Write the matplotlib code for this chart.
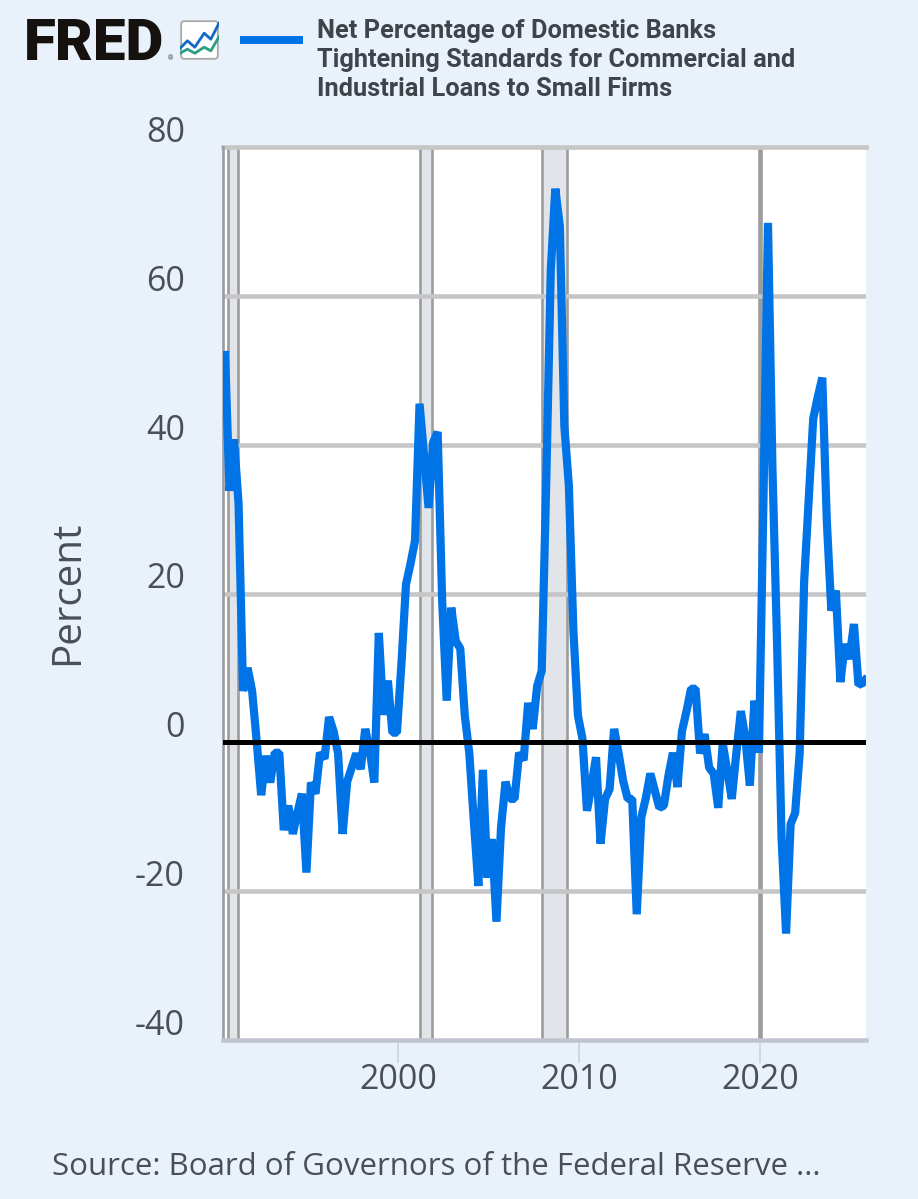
import numpy as np
import matplotlib
matplotlib.use("Agg")
import matplotlib.pyplot as plt
from matplotlib.patches import FancyBboxPatch
from matplotlib.transforms import ScaledTranslation

# ---- data ----
start_year = 1990.44
quarter_step = 0.25
net_tightening = [
    52.6, 33.8, 40.7, 32.1, 6.9, 10.0, 6.9, 0.2, -7.1, -1.8,
    -5.4, -1.4, -1.4, -11.8, -8.5, -12.3, -9.5, -6.9, -17.5, -5.4,
    -6.9, -1.4, -2.2, 3.4, 1.5, -1.5, -12.3, -5.3, -3.4, -1.5,
    -3.6, 1.8, -1.1, -5.4, 14.7, 3.7, 8.3, 1.3, 1.3, 10.6,
    21.2, 24.0, 27.1, 45.5, 38.5, 31.5, 40.3, 41.7, 19.0, 5.6,
    18.1, 13.6, 12.6, 3.6, -1.5, -10.6, -19.3, -3.7, -18.2, -13.0,
    -24.1, -11.5, -5.3, -7.6, -7.6, -1.4, -2.4, 5.3, 1.8, 7.6,
    9.6, 35.1, 63.4, 74.4, 69.3, 42.5, 34.5, 15.0, 3.6, 0.5,
    -9.2, -5.8, -2.0, -13.6, -7.6, -6.3, 1.8, -1.5, -5.2, -7.6,
    -7.6, -23.1, -10.1, -7.5, -4.2, -6.5, -8.8, -8.5, -4.5, -1.4,
    -6.0, 1.5, 4.2, 7.2, 7.2, -1.5, 1.1, -3.4, -4.2, -8.8,
    -0.2, -3.8, -7.6, -1.5, 4.2, 0.6, -5.8, 5.6, -1.4, 32.5,
    69.8, 36.5, 13.6, -12.8, -25.7, -11.0, -9.5, -1.5, 21.7, 32.5,
    43.5, 46.4, 49.0, 29.8, 17.7, 20.4, 8.1, 13.2, 11.2, 15.9,
    7.7, 8.0, 8.8,
]
recession_starts = [1990.58, 2001.20, 2007.96, 2019.97]
recession_ends = [1991.18, 2001.90, 2009.34, 2020.03]
y_ticks = [-40, -20, 0, 20, 40, 60, 80]
y_tick_labels = ["-40", "-20", "0", "20", "40", "60", "80"]
x_ticks = [2000, 2010, 2020]
x_tick_labels = ["2000", "2010", "2020"]
legend_title = ("Net Percentage of Domestic Banks\n"
                "Tightening Standards for Commercial and\n"
                "Industrial Loans to Small Firms")
y_label = "Percent"
source_text = "Source: Board of Governors of the Federal Reserve ..."
icon_x = [0, 0.19, 0.38, 0.62, 0.79, 1]
icon_blue = [0.29, 0.48, 0.32, 0.67, 0.52, 0.92]
icon_green = [0.17, 0.27, 0.17, 0.32, 0.23, 0.58]

# ---- style ----
W, H = 918, 1199
BG = "#e9f2fa"
BLUE = "#0073e6"
GRID = "#c6c6c6"
EDGE = "#9b9b9b"
BAND = "#e1e5ea"
TEXT = "#4a4f55"
FONT = "Open Sans"
px = 0.72  # points per pixel at dpi 100


def rect(l, t, r, b):
    return [l / W, 1 - b / H, (r - l) / W, (b - t) / H]


fig = plt.figure(figsize=(W / 100, H / 100), dpi=100, facecolor=BG)
ax = fig.add_axes(rect(223, 147, 866, 1040), facecolor="white")
ax.set_xlim(1990.331, 2025.856)
ax.set_ylim(-40, 80)

for s, e in zip(recession_starts, recession_ends):
    ax.axvspan(s, e, facecolor=BAND, edgecolor="none", zorder=1)
    ax.axvline(s, color=EDGE, lw=2.6 * px, zorder=1.2)
    ax.axvline(e, color=EDGE, lw=2.6 * px, zorder=1.2)

for v in y_ticks:
    if v in (-40, 0):
        continue
    ax.axhline(v, color=GRID, lw=4.6 * px, zorder=2, clip_on=(v != 80))

years = start_year + quarter_step * np.arange(len(net_tightening))
ax.plot(years, net_tightening, color=BLUE, lw=8.2 * px, zorder=3,
        solid_joinstyle="bevel", solid_capstyle="butt")
ax.axhline(0, color="black", lw=5 * px, zorder=4, xmin=0.002)

for name in ("top", "right"):
    ax.spines[name].set_visible(False)
ax.spines["left"].set_color(EDGE)
ax.spines["left"].set_linewidth(2.6 * px)
ax.spines["bottom"].set_color("#c0c4cf")
ax.spines["bottom"].set_linewidth(4.5 * px)

ax.set_yticks(y_ticks)
ax.set_yticklabels(y_tick_labels, fontsize=24.5, family=FONT, color=TEXT)
ax.tick_params(axis="y", length=0, pad=38 * px)
lift = ScaledTranslation(0, 18 / 100, fig.dpi_scale_trans)
for lab in ax.get_yticklabels():
    lab.set_transform(lab.get_transform() + lift)

ax.set_xticks(x_ticks)
ax.set_xticklabels(x_tick_labels, fontsize=24.5, family=FONT, color=TEXT)
ax.tick_params(axis="x", length=23 * px, width=1.5 * px, color="#c3d0e0", pad=0)

fig.text(68 / W, 1 - 593 / H, y_label, rotation=90, ha="center", va="center",
         fontsize=29, family=FONT, color=TEXT)
fig.text(52 / W, 1 - 1175 / H, source_text, ha="left", va="baseline",
         fontsize=22.5, family=FONT, color=TEXT)

# legend
fig.add_artist(plt.Line2D([240 / W, 303 / W], [1 - 40 / H] * 2, color=BLUE,
                          lw=8 * px, solid_capstyle="butt"))
fig.text(317 / W, 1 - 60 / H, legend_title, ha="left", va="center",
         fontsize=18.3, family="Roboto", fontweight="bold", color="#3f444a",
         linespacing=1.25)

# logo
fig.text(24 / W, 1 - 60 / H, "FRED", ha="left", va="baseline", fontsize=42,
         family="Roboto", fontweight="black", color="#15110f")
fig.text(168 / W, 1 - 60 / H, "®", ha="left", va="baseline", fontsize=5,
         family="Roboto", color="#444444")

icon = fig.add_axes(rect(180, 20, 219, 60))
icon.set_xlim(0, 1)
icon.set_ylim(0, 1)
icon.axis("off")
icon.add_patch(FancyBboxPatch((0.03, 0.03), 0.94, 0.94,
                              boxstyle="round,pad=0,rounding_size=0.08",
                              fc="white", ec="#a8a8a8", lw=1.3,
                              transform=icon.transAxes))
icon.plot(icon_x, icon_blue, color="#1369c4", lw=2.8 * px)
icon.plot(icon_x, icon_green, color="#2a9d82", lw=2.8 * px)

fig.savefig("out.png", dpi=100, facecolor=BG)
